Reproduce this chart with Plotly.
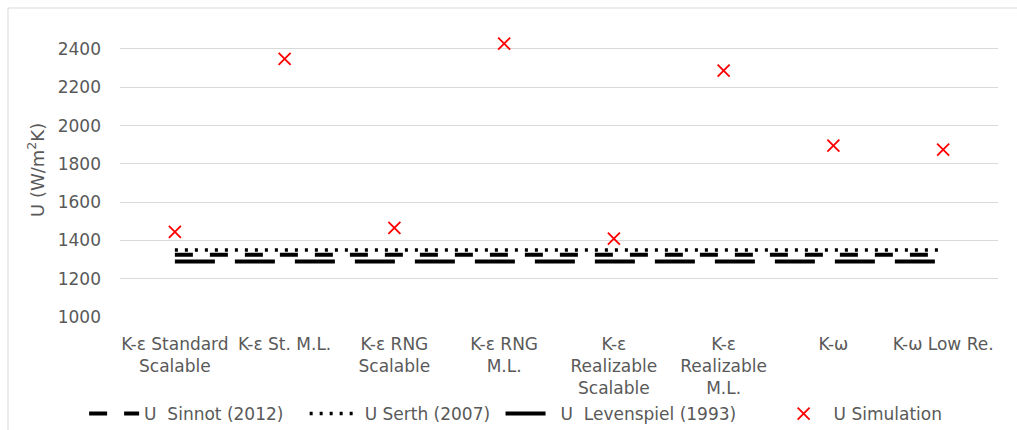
import plotly.graph_objects as go

categories = [
    "K-ε Standard<br>Scalable",
    "K-ε St. M.L.",
    "K-ε RNG<br>Scalable",
    "K-ε RNG<br>M.L.",
    "K-ε<br>Realizable<br>Scalable",
    "K-ε<br>Realizable<br>M.L.",
    "K-ω",
    "K-ω Low Re.",
]
u_sinnot = [1325] * 8
u_serth = [1350] * 8
u_levenspiel = [1290] * 8
u_simulation = [1445, 2348, 1466, 2428, 1409, 2287, 1895, 1874]
y_ticks = [1000, 1200, 1400, 1600, 1800, 2000, 2200, 2400]

FONT = "DejaVu Sans"
GREY = "#595959"
GRID = "#d9d9d9"
NB = "\u00a0"

fig = go.Figure()
fig.add_trace(go.Scatter(
    x=categories, y=u_sinnot, mode="lines", name="U" + NB + " Sinnot (2012)" + NB * 3,
    line=dict(color="black", width=4, dash="18px,17px"),
))
fig.add_trace(go.Scatter(
    x=categories, y=u_serth, mode="lines", name="U Serth (2007)" + NB,
    line=dict(color="black", width=3.5, dash="3px,7px"),
))
fig.add_trace(go.Scatter(
    x=categories, y=u_levenspiel, mode="lines", name="U" + NB + " Levenspiel (1993)" + NB * 6,
    line=dict(color="black", width=4, dash="40px,20px"),
))
fig.add_trace(go.Scatter(
    x=categories, y=u_simulation, mode="markers", name="U Simulation",
    marker=dict(symbol="x-thin", size=12, color="#ff0000",
                line=dict(width=1.8, color="#ff0000")),
))

L, R, T, B = 120, 19, 8, 113
W, H = 1017, 430
pw = W - L - R
ph = H - T - B

fig.update_layout(
    width=W, height=H,
    margin=dict(l=L, r=R, t=T, b=B, pad=0, autoexpand=False),
    paper_bgcolor="white", plot_bgcolor="white",
    font=dict(family=FONT, size=17, color=GREY),
    showlegend=True,
    legend=dict(
        orientation="h", xref="container", yref="container",
        x=0.507, xanchor="center", y=1 - 414 / H, yanchor="middle",
        font=dict(family=FONT, size=17, color=GREY),
        itemwidth=50, bgcolor="rgba(0,0,0,0)",
    ),
    xaxis=dict(
        type="category", range=[-0.5, 7.5], showgrid=False, zeroline=False,
        showline=False, ticks="", tickfont=dict(family=FONT, size=17, color=GREY),
        ticklabelstandoff=15, automargin=False,
    ),
    yaxis=dict(
        range=[1000, 2614], tickvals=y_ticks, ticktext=[str(v) for v in y_ticks],
        showgrid=True, gridcolor=GRID, gridwidth=1, zeroline=False, showline=False,
        ticks="", tickfont=dict(family=FONT, size=17, color=GREY),
        ticklabelstandoff=18, automargin=False,
    ),
    annotations=[
        dict(text="U (W/m<sup>2</sup>K)", xref="paper", yref="paper",
             x=(36 - L) / pw, y=(317 - 170) / ph, xanchor="center", yanchor="middle",
             textangle=-90, showarrow=False,
             font=dict(family=FONT, size=18, color=GREY)),
    ],
    shapes=[
        dict(type="line", xref="paper", yref="paper",
             x0=(8 - L) / pw, x1=(W - L) / pw, y0=1, y1=1,
             line=dict(color=GRID, width=1)),
        dict(type="line", xref="paper", yref="paper",
             x0=(8 - L) / pw, x1=(8 - L) / pw, y0=1, y1=-(B / ph),
             line=dict(color=GRID, width=1)),
    ],
)

fig.write_html(
    "out.html",
    config={"displayModeBar": False},
    post_script="document.body.style.margin='0';document.body.style.overflow='hidden';",
)
